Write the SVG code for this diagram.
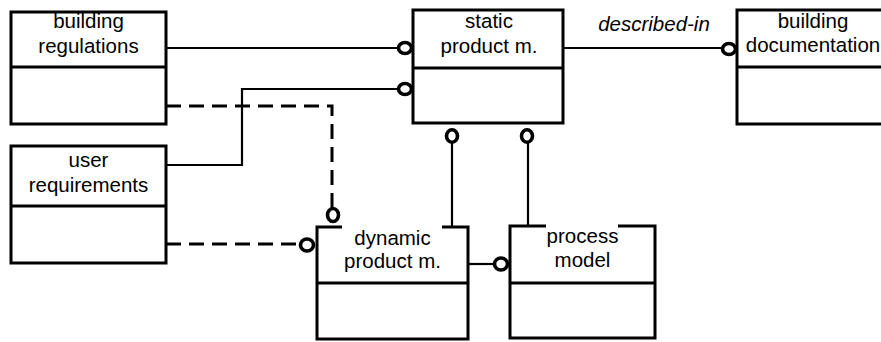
<svg xmlns="http://www.w3.org/2000/svg" width="881" height="342" viewBox="0 0 881 342">
<style>
.box{fill:none;stroke:#000;stroke-width:3}
.div{stroke:#000;stroke-width:3}
.t{font-family:"Liberation Sans",Arial,sans-serif;font-size:20.5px;fill:#000;text-anchor:middle}
.it{font-style:italic}
.ln{fill:none;stroke:#000;stroke-width:2.2}
.dash{fill:none;stroke:#000;stroke-width:3;stroke-dasharray:15 8}
.ball{fill:#fff;stroke:#000;stroke-width:3.6}
</style>
<rect width="881" height="342" fill="#fff"/>
<g id="connectors">
<path class="ln" d="M166 48 H398"/>
<path class="ln" d="M166 165 H242 V89 H398"/>
<path class="dash" d="M166 106 H332 V208"/>
<path class="dash" d="M166 244 H298"/>
<path class="ln" d="M452 143 V227"/>
<path class="ln" d="M528 143 V226"/>
<path class="ln" d="M468 264 H494"/>
<path class="ln" d="M563 48 H721"/>
<ellipse class="ball" cx="405" cy="48" rx="6.5" ry="5.5"/>
<ellipse class="ball" cx="405" cy="89" rx="6.5" ry="5.5"/>
<ellipse class="ball" cx="452" cy="136" rx="5.5" ry="6.2"/>
<ellipse class="ball" cx="527" cy="136" rx="5.5" ry="6.2"/>
<ellipse class="ball" cx="333" cy="215" rx="5.5" ry="6.5"/>
<ellipse class="ball" cx="307" cy="245" rx="6.5" ry="6"/>
<ellipse class="ball" cx="501" cy="264" rx="6.5" ry="6"/>
<ellipse class="ball" cx="729" cy="49" rx="6.5" ry="5.5"/>
<text class="t it" x="654" y="31">described-in</text>
</g>
<g id="building-regulations">
<rect class="box" x="11" y="12" width="155" height="112"/>
<line class="div" x1="11" y1="67" x2="166" y2="67"/>
<text class="t" x="88.5" y="28">building</text>
<text class="t" x="88.5" y="53">regulations</text>
</g>
<g id="user-requirements">
<rect class="box" x="11" y="146" width="155" height="117"/>
<line class="div" x1="11" y1="206" x2="166" y2="206"/>
<text class="t" x="88.5" y="167">user</text>
<text class="t" x="88.5" y="192">requirements</text>
</g>
<g id="static-product">
<rect class="box" x="413" y="10" width="150" height="113"/>
<line class="div" x1="413" y1="68" x2="563" y2="68"/>
<text class="t" x="489" y="28">static</text>
<text class="t" x="489" y="53">product m.</text>
</g>
<g id="building-documentation">
<rect class="box" x="737" y="10" width="152" height="114"/>
<line class="div" x1="737" y1="67" x2="889" y2="67"/>
<text class="t" x="813" y="28">building</text>
<text class="t" x="813" y="52">documentation</text>
</g>
<g id="dynamic-product">
<path class="box" d="M342 227 H317 V339 H468 V227 H442"/>
<line class="div" x1="317" y1="283" x2="468" y2="283"/>
<text class="t" x="392.5" y="245">dynamic</text>
<text class="t" x="392.5" y="268">product m.</text>
</g>
<g id="process-model">
<path class="box" d="M546 226 H510 V338 H655 V226 H618"/>
<line class="div" x1="510" y1="283" x2="655" y2="283"/>
<text class="t" x="582.5" y="243">process</text>
<text class="t" x="582.5" y="267">model</text>
</g>
</svg>
